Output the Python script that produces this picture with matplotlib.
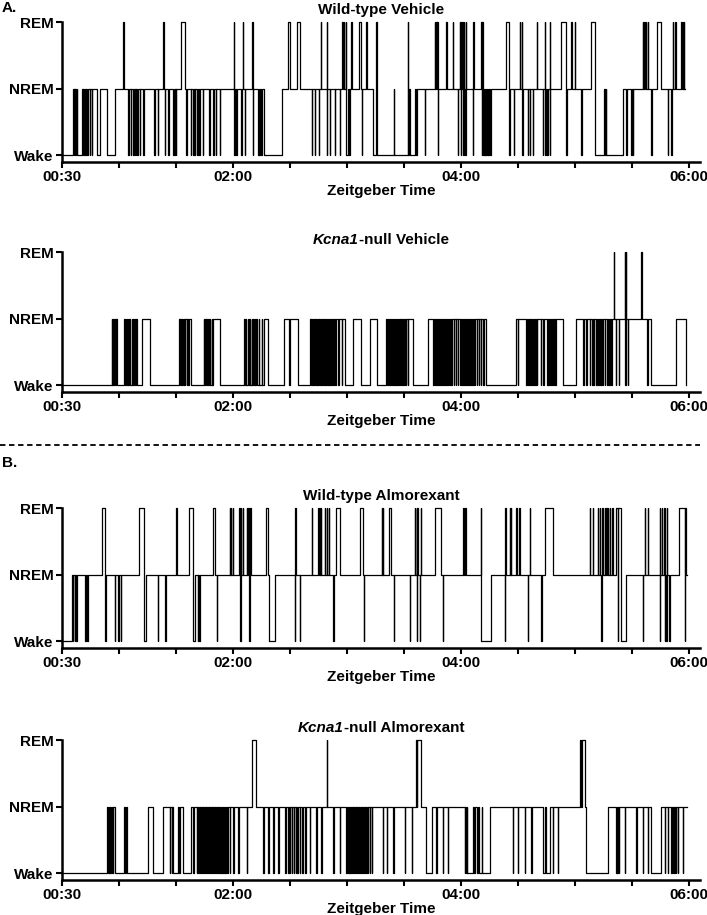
import matplotlib
matplotlib.use("Agg")
import matplotlib.pyplot as plt
from matplotlib.lines import Line2D

plt.rcParams['font.family'] = ['Liberation Sans', 'DejaVu Sans']
plt.rcParams['font.weight'] = 'bold'
plt.rcParams['font.size'] = 11

# ── Hypnogram data: (Zeitgeber minute, state) at every state change ──────────
# W = Wake, N = NREM, R = REM
wt_vehicle = [
    (30.0, 'W'), (35.8, 'N'), (36.1, 'W'), (36.4, 'N'), (36.8, 'W'), (37.0, 'N'), (37.5, 'W'),
    (37.7, 'N'), (37.9, 'W'), (40.5, 'N'), (40.8, 'W'), (41.3, 'N'), (41.6, 'W'), (42.1, 'N'),
    (42.5, 'W'), (42.8, 'N'), (43.1, 'W'), (43.7, 'N'), (44.7, 'W'), (44.9, 'N'), (45.8, 'W'),
    (46.0, 'N'), (48.4, 'W'), (50.0, 'N'), (53.7, 'W'), (57.9, 'N'), (62.3, 'R'), (62.5, 'N'),
    (64.9, 'W'), (65.1, 'N'), (66.1, 'W'), (66.3, 'N'), (67.5, 'W'), (67.7, 'N'), (68.4, 'W'),
    (68.6, 'N'), (69.0, 'W'), (69.2, 'N'), (69.6, 'W'), (69.8, 'N'), (71.0, 'W'), (71.2, 'N'),
    (72.8, 'W'), (73.0, 'N'), (78.6, 'W'), (78.8, 'N'), (80.3, 'W'), (80.5, 'N'), (83.3, 'R'),
    (83.5, 'N'), (84.2, 'W'), (84.4, 'N'), (85.9, 'W'), (86.1, 'N'), (88.6, 'W'), (88.8, 'N'),
    (89.3, 'W'), (89.5, 'N'), (90.0, 'W'), (90.2, 'N'), (92.6, 'R'), (94.7, 'N'), (95.3, 'W'),
    (95.9, 'N'), (97.7, 'W'), (97.9, 'N'), (99.1, 'W'), (99.3, 'N'), (100.0, 'W'), (100.2, 'N'),
    (101.2, 'W'), (101.4, 'N'), (102.3, 'W'), (102.5, 'N'), (104.0, 'W'), (104.2, 'N'),
    (107.5, 'W'), (107.7, 'N'), (109.6, 'W'), (109.8, 'N'), (111.0, 'W'), (111.2, 'N'),
    (113.2, 'W'), (113.4, 'N'), (120.5, 'R'), (120.7, 'W'), (121.0, 'N'), (121.5, 'W'),
    (121.9, 'N'), (124.5, 'W'), (124.7, 'N'), (125.1, 'R'), (125.3, 'N'), (126.3, 'W'),
    (126.5, 'N'), (130.3, 'R'), (130.5, 'W'), (130.8, 'N'), (133.3, 'W'), (133.5, 'N'),
    (134.0, 'W'), (134.3, 'N'), (135.0, 'W'), (135.3, 'N'), (136.3, 'W'), (145.6, 'N'),
    (149.1, 'R'), (150.3, 'N'), (153.5, 'R'), (155.2, 'N'), (161.7, 'W'), (161.9, 'N'),
    (163.1, 'W'), (163.3, 'N'), (165.2, 'W'), (165.4, 'N'), (166.3, 'R'), (166.5, 'N'),
    (169.3, 'R'), (169.5, 'W'), (169.8, 'N'), (171.0, 'W'), (171.2, 'N'), (173.7, 'W'),
    (173.9, 'N'), (176.3, 'W'), (176.5, 'N'), (177.7, 'R'), (177.9, 'N'), (178.3, 'R'),
    (178.5, 'N'), (179.5, 'R'), (179.7, 'W'), (180.5, 'N'), (181.0, 'W'), (181.6, 'N'),
    (182.4, 'R'), (182.6, 'N'), (186.5, 'R'), (187.7, 'N'), (188.0, 'W'), (188.2, 'N'),
    (190.3, 'R'), (190.5, 'N'), (193.8, 'W'), (195.5, 'R'), (195.7, 'W'), (204.9, 'N'),
    (205.1, 'W'), (212.2, 'R'), (212.4, 'W'), (213.0, 'N'), (213.2, 'W'), (216.0, 'N'),
    (216.3, 'W'), (217.2, 'N'), (221.0, 'W'), (221.2, 'N'), (226.3, 'R'), (226.6, 'N'),
    (227.0, 'R'), (227.3, 'N'), (227.7, 'R'), (228.0, 'W'), (228.2, 'N'), (232.4, 'R'),
    (232.6, 'N'), (235.9, 'R'), (236.1, 'N'), (238.6, 'W'), (238.8, 'N'), (239.4, 'R'),
    (239.6, 'N'), (240.0, 'W'), (240.2, 'R'), (240.5, 'N'), (241.0, 'R'), (241.2, 'W'),
    (241.5, 'R'), (241.8, 'N'), (242.3, 'W'), (242.6, 'R'), (242.9, 'N'), (246.4, 'W'),
    (246.6, 'R'), (246.8, 'N'), (250.8, 'R'), (251.1, 'W'), (251.4, 'R'), (251.7, 'W'),
    (252.0, 'N'), (252.3, 'W'), (252.6, 'N'), (253.0, 'W'), (253.3, 'N'), (253.8, 'W'),
    (254.1, 'N'), (254.6, 'W'), (254.9, 'N'), (255.5, 'W'), (255.8, 'N'), (264.0, 'R'),
    (265.4, 'W'), (265.7, 'N'), (268.0, 'W'), (268.2, 'N'), (271.0, 'R'), (271.3, 'N'),
    (272.0, 'R'), (272.5, 'W'), (272.8, 'N'), (275.4, 'W'), (275.6, 'N'), (276.5, 'W'),
    (276.7, 'N'), (278.0, 'W'), (278.2, 'N'), (280.1, 'R'), (280.3, 'N'), (283.3, 'W'),
    (283.5, 'N'), (284.2, 'R'), (284.4, 'W'), (284.7, 'N'), (285.5, 'W'), (285.7, 'N'),
    (286.8, 'R'), (287.0, 'W'), (287.2, 'N'), (292.9, 'R'), (295.6, 'W'), (295.8, 'N'),
    (298.2, 'R'), (298.4, 'N'), (300.0, 'R'), (300.2, 'N'), (303.4, 'W'), (303.6, 'N'),
    (308.4, 'R'), (310.5, 'W'), (315.7, 'N'), (316.0, 'W'), (316.3, 'N'), (316.6, 'W'),
    (325.4, 'N'), (327.1, 'W'), (327.3, 'N'), (329.8, 'W'), (330.0, 'N'), (330.7, 'W'),
    (330.9, 'N'), (335.9, 'R'), (336.2, 'N'), (336.6, 'R'), (336.9, 'N'), (337.4, 'R'),
    (337.7, 'N'), (338.5, 'R'), (338.8, 'N'), (340.3, 'W'), (340.5, 'N'), (343.4, 'R'),
    (345.2, 'N'), (349.0, 'W'), (349.2, 'N'), (350.8, 'W'), (351.0, 'N'), (351.7, 'R'),
    (352.0, 'N'), (353.0, 'R'), (353.4, 'N'), (356.0, 'R'), (356.3, 'N'), (356.8, 'R'),
    (357.1, 'N'), (357.5, 'R'), (357.8, 'N'),
]
wt_vehicle_end = 358.2

ko_vehicle = [
    (30.0, 'W'), (56.1, 'N'), (56.5, 'W'), (57.0, 'N'), (57.3, 'W'), (57.9, 'N'), (58.3, 'W'),
    (58.6, 'N'), (59.1, 'W'), (62.8, 'N'), (63.2, 'W'), (63.6, 'N'), (64.0, 'W'), (64.6, 'N'),
    (65.0, 'W'), (65.4, 'N'), (65.8, 'W'), (66.7, 'N'), (67.1, 'W'), (67.5, 'N'), (67.8, 'W'),
    (68.4, 'N'), (68.8, 'W'), (69.2, 'N'), (69.6, 'W'), (71.9, 'N'), (76.3, 'W'), (91.7, 'N'),
    (92.1, 'W'), (92.4, 'N'), (92.8, 'W'), (93.2, 'N'), (93.6, 'W'), (94.2, 'N'), (94.6, 'W'),
    (95.0, 'N'), (95.6, 'W'), (96.0, 'N'), (96.4, 'W'), (96.7, 'N'), (97.9, 'W'), (104.7, 'N'),
    (105.0, 'W'), (105.4, 'N'), (105.7, 'W'), (106.1, 'N'), (106.4, 'W'), (107.0, 'N'),
    (107.3, 'W'), (107.9, 'N'), (108.2, 'W'), (108.8, 'N'), (109.2, 'W'), (109.6, 'N'),
    (113.1, 'W'), (125.9, 'N'), (126.3, 'W'), (126.8, 'N'), (127.1, 'W'), (128.1, 'N'),
    (128.4, 'W'), (128.9, 'N'), (129.2, 'W'), (129.8, 'N'), (130.1, 'W'), (130.7, 'N'),
    (131.0, 'W'), (131.6, 'N'), (131.9, 'W'), (132.4, 'N'), (132.7, 'W'), (133.7, 'N'),
    (134.0, 'W'), (135.1, 'N'), (135.4, 'W'), (136.3, 'N'), (138.6, 'W'), (146.8, 'N'),
    (149.6, 'W'), (150.3, 'N'), (154.4, 'W'), (160.5, 'N'), (160.9, 'W'), (161.3, 'N'),
    (161.6, 'W'), (162.0, 'N'), (162.3, 'W'), (162.8, 'N'), (163.1, 'W'), (163.5, 'N'),
    (163.8, 'W'), (164.2, 'N'), (164.5, 'W'), (164.9, 'N'), (165.2, 'W'), (165.6, 'N'),
    (165.9, 'W'), (166.3, 'N'), (166.6, 'W'), (167.0, 'N'), (167.3, 'W'), (167.7, 'N'),
    (168.0, 'W'), (168.4, 'N'), (168.7, 'W'), (169.1, 'N'), (169.5, 'W'), (169.9, 'N'),
    (170.3, 'W'), (170.8, 'N'), (171.2, 'W'), (171.7, 'N'), (172.1, 'W'), (172.6, 'N'),
    (173.0, 'W'), (173.5, 'N'), (174.0, 'W'), (174.5, 'N'), (175.4, 'W'), (175.7, 'N'),
    (177.2, 'W'), (177.5, 'N'), (178.9, 'W'), (183.3, 'N'), (187.7, 'W'), (192.1, 'N'),
    (196.0, 'W'), (200.8, 'N'), (201.3, 'W'), (201.8, 'N'), (202.2, 'W'), (202.6, 'N'),
    (203.0, 'W'), (203.5, 'N'), (203.9, 'W'), (204.3, 'N'), (204.7, 'W'), (205.2, 'N'),
    (205.6, 'W'), (206.1, 'N'), (206.5, 'W'), (206.9, 'N'), (207.4, 'W'), (207.8, 'N'),
    (208.3, 'W'), (208.7, 'N'), (209.2, 'W'), (209.6, 'N'), (210.1, 'W'), (210.5, 'N'),
    (211.0, 'W'), (211.4, 'N'), (212.0, 'W'), (212.4, 'N'), (214.9, 'W'), (222.8, 'N'),
    (225.4, 'W'), (225.8, 'N'), (226.4, 'W'), (226.8, 'N'), (227.5, 'W'), (227.9, 'N'),
    (228.5, 'W'), (228.9, 'N'), (229.6, 'W'), (230.0, 'N'), (230.7, 'W'), (231.1, 'N'),
    (231.8, 'W'), (232.2, 'N'), (232.9, 'W'), (233.3, 'N'), (234.0, 'W'), (234.4, 'N'),
    (235.1, 'W'), (235.5, 'N'), (236.2, 'W'), (236.6, 'N'), (237.3, 'W'), (237.7, 'N'),
    (238.4, 'W'), (238.8, 'N'), (239.5, 'W'), (239.9, 'N'), (240.6, 'W'), (241.0, 'N'),
    (241.7, 'W'), (242.1, 'N'), (242.8, 'W'), (243.2, 'N'), (243.9, 'W'), (244.3, 'N'),
    (245.0, 'W'), (245.4, 'N'), (246.1, 'W'), (246.5, 'N'), (247.2, 'W'), (247.6, 'N'),
    (248.3, 'W'), (248.7, 'N'), (249.4, 'W'), (249.8, 'N'), (250.5, 'W'), (250.9, 'N'),
    (251.6, 'W'), (252.0, 'N'), (253.5, 'W'), (269.2, 'N'), (270.0, 'W'), (270.3, 'N'),
    (274.5, 'W'), (274.9, 'N'), (275.4, 'W'), (275.8, 'N'), (276.3, 'W'), (276.7, 'N'),
    (277.2, 'W'), (277.6, 'N'), (278.1, 'W'), (278.5, 'N'), (279.0, 'W'), (279.4, 'N'),
    (280.0, 'W'), (280.4, 'N'), (282.1, 'W'), (282.5, 'N'), (283.2, 'W'), (283.6, 'N'),
    (285.3, 'W'), (285.7, 'N'), (286.2, 'W'), (286.6, 'N'), (287.1, 'W'), (287.5, 'N'),
    (288.0, 'W'), (288.4, 'N'), (288.9, 'W'), (289.3, 'N'), (289.8, 'W'), (290.2, 'N'),
    (293.8, 'W'), (300.8, 'N'), (304.3, 'W'), (304.7, 'N'), (306.1, 'W'), (306.5, 'N'),
    (307.9, 'W'), (308.3, 'N'), (309.0, 'W'), (309.4, 'N'), (310.0, 'W'), (310.4, 'N'),
    (311.1, 'W'), (311.5, 'N'), (312.2, 'W'), (312.6, 'N'), (313.5, 'W'), (313.9, 'N'),
    (314.6, 'W'), (315.0, 'N'), (315.8, 'W'), (316.2, 'N'), (317.0, 'W'), (317.4, 'N'),
    (318.0, 'W'), (318.4, 'N'), (319.2, 'W'), (319.6, 'N'), (320.6, 'R'), (320.9, 'N'),
    (321.5, 'W'), (321.8, 'N'), (323.2, 'W'), (323.5, 'N'), (326.3, 'R'), (326.6, 'W'),
    (326.9, 'R'), (327.2, 'N'), (328.0, 'W'), (328.3, 'N'), (335.0, 'R'), (335.3, 'N'),
    (338.2, 'W'), (338.5, 'N'), (340.3, 'W'), (353.4, 'N'), (358.5, 'W'),
]
ko_vehicle_end = 358.7

wt_almorexant = [
    (30.0, 'W'), (35.1, 'N'), (35.6, 'W'), (36.0, 'N'), (36.6, 'W'), (37.1, 'N'), (37.6, 'W'),
    (38.1, 'N'), (42.1, 'W'), (42.6, 'N'), (43.2, 'W'), (43.9, 'N'), (50.9, 'R'), (52.6, 'N'),
    (52.8, 'W'), (53.0, 'N'), (57.9, 'W'), (58.1, 'N'), (59.6, 'W'), (59.8, 'N'), (61.0, 'W'),
    (61.2, 'N'), (70.7, 'R'), (73.3, 'W'), (74.0, 'N'), (80.3, 'W'), (80.5, 'N'), (84.5, 'W'),
    (84.7, 'N'), (90.3, 'R'), (90.5, 'N'), (97.0, 'R'), (98.8, 'W'), (100.0, 'N'), (101.4, 'W'),
    (101.6, 'N'), (102.4, 'W'), (102.6, 'N'), (109.3, 'R'), (110.5, 'N'), (111.4, 'W'),
    (111.6, 'N'), (118.4, 'R'), (118.6, 'N'), (119.0, 'R'), (119.2, 'N'), (120.0, 'R'),
    (120.2, 'N'), (123.3, 'R'), (123.5, 'N'), (124.0, 'W'), (124.2, 'R'), (124.5, 'N'),
    (125.2, 'R'), (125.4, 'N'), (127.2, 'R'), (127.4, 'N'), (128.0, 'R'), (128.3, 'N'),
    (128.6, 'W'), (128.8, 'R'), (129.3, 'N'), (137.3, 'R'), (138.6, 'N'), (139.1, 'W'),
    (142.1, 'N'), (152.6, 'W'), (152.8, 'R'), (153.3, 'N'), (155.2, 'W'), (155.4, 'N'),
    (161.4, 'R'), (161.6, 'N'), (164.9, 'R'), (165.1, 'N'), (165.8, 'R'), (166.0, 'N'),
    (166.4, 'R'), (166.6, 'N'), (168.4, 'R'), (168.6, 'N'), (169.3, 'R'), (169.5, 'N'),
    (170.4, 'R'), (170.6, 'N'), (172.8, 'W'), (173.0, 'N'), (174.5, 'R'), (176.3, 'N'),
    (186.9, 'R'), (188.3, 'N'), (189.0, 'W'), (189.2, 'N'), (198.3, 'R'), (198.6, 'N'),
    (199.0, 'R'), (199.2, 'N'), (202.3, 'R'), (203.5, 'N'), (204.8, 'W'), (205.0, 'N'),
    (213.2, 'W'), (213.4, 'N'), (215.8, 'R'), (216.0, 'N'), (216.7, 'R'), (217.0, 'W'),
    (217.2, 'R'), (217.5, 'N'), (218.4, 'W'), (218.6, 'N'), (219.1, 'R'), (219.3, 'N'),
    (226.3, 'R'), (229.8, 'N'), (230.4, 'W'), (230.6, 'N'), (241.2, 'R'), (241.5, 'N'),
    (242.3, 'R'), (243.0, 'N'), (250.5, 'R'), (250.7, 'N'), (250.9, 'W'), (256.1, 'N'),
    (263.2, 'W'), (263.4, 'R'), (263.7, 'N'), (265.8, 'R'), (266.0, 'N'), (266.5, 'R'),
    (266.7, 'N'), (269.3, 'R'), (269.6, 'N'), (270.6, 'R'), (271.1, 'N'), (275.4, 'W'),
    (275.6, 'N'), (276.3, 'R'), (276.5, 'N'), (282.5, 'W'), (282.7, 'N'), (284.2, 'R'),
    (288.6, 'N'), (307.9, 'R'), (308.1, 'N'), (309.4, 'R'), (309.6, 'N'), (312.3, 'R'),
    (312.5, 'N'), (313.2, 'R'), (313.4, 'N'), (314.0, 'W'), (314.2, 'R'), (314.9, 'N'),
    (315.8, 'R'), (316.0, 'N'), (316.6, 'R'), (316.9, 'N'), (317.4, 'R'), (317.7, 'N'),
    (318.4, 'R'), (318.7, 'N'), (319.4, 'R'), (320.2, 'N'), (321.9, 'R'), (322.8, 'W'),
    (323.0, 'R'), (324.5, 'W'), (327.2, 'N'), (336.0, 'W'), (336.2, 'N'), (336.8, 'R'),
    (337.0, 'N'), (338.4, 'R'), (338.6, 'N'), (344.7, 'R'), (344.9, 'W'), (345.1, 'N'),
    (346.0, 'R'), (346.2, 'N'), (347.2, 'R'), (347.4, 'W'), (347.6, 'N'), (348.2, 'W'),
    (348.4, 'R'), (348.6, 'N'), (349.8, 'W'), (350.0, 'N'), (355.2, 'R'), (357.9, 'W'),
    (358.1, 'R'), (358.7, 'N'),
]
wt_almorexant_end = 359.1

ko_almorexant = [
    (30.0, 'W'), (53.8, 'N'), (54.2, 'W'), (54.6, 'N'), (55.0, 'W'), (55.4, 'N'), (55.8, 'W'),
    (56.2, 'N'), (56.6, 'W'), (57.0, 'N'), (57.9, 'W'), (62.8, 'N'), (63.2, 'W'), (63.6, 'N'),
    (64.0, 'W'), (75.1, 'N'), (78.1, 'W'), (83.3, 'N'), (86.8, 'W'), (87.0, 'N'), (87.7, 'W'),
    (87.9, 'N'), (88.6, 'W'), (91.2, 'N'), (91.6, 'W'), (92.0, 'N'), (93.8, 'W'), (98.2, 'N'),
    (99.2, 'W'), (99.5, 'N'), (100.9, 'W'), (101.2, 'N'), (101.7, 'W'), (102.0, 'N'),
    (102.5, 'W'), (102.8, 'N'), (103.3, 'W'), (103.6, 'N'), (104.1, 'W'), (104.4, 'N'),
    (104.9, 'W'), (105.2, 'N'), (105.7, 'W'), (106.0, 'N'), (106.5, 'W'), (106.8, 'N'),
    (107.3, 'W'), (107.6, 'N'), (108.1, 'W'), (108.4, 'N'), (108.9, 'W'), (109.2, 'N'),
    (109.7, 'W'), (110.0, 'N'), (110.5, 'W'), (110.8, 'N'), (111.3, 'W'), (111.6, 'N'),
    (112.1, 'W'), (112.4, 'N'), (112.9, 'W'), (113.2, 'N'), (113.7, 'W'), (114.0, 'N'),
    (114.5, 'W'), (114.8, 'N'), (115.3, 'W'), (115.6, 'N'), (116.1, 'W'), (116.4, 'N'),
    (117.0, 'W'), (117.3, 'N'), (118.4, 'W'), (118.7, 'N'), (120.2, 'W'), (120.4, 'N'),
    (122.8, 'W'), (123.0, 'N'), (127.2, 'W'), (127.4, 'N'), (130.1, 'R'), (132.4, 'N'),
    (136.0, 'W'), (136.3, 'N'), (138.6, 'W'), (138.9, 'N'), (141.2, 'W'), (141.5, 'N'),
    (143.8, 'W'), (144.1, 'N'), (147.3, 'W'), (148.2, 'N'), (149.0, 'W'), (149.3, 'N'),
    (150.0, 'W'), (150.3, 'N'), (151.0, 'W'), (151.3, 'N'), (152.0, 'W'), (152.3, 'N'),
    (153.0, 'W'), (153.3, 'N'), (154.0, 'W'), (154.3, 'N'), (155.2, 'W'), (155.5, 'N'),
    (156.5, 'W'), (156.8, 'N'), (158.0, 'W'), (158.3, 'N'), (160.5, 'W'), (160.8, 'N'),
    (164.0, 'W'), (164.3, 'N'), (166.6, 'W'), (166.9, 'N'), (169.3, 'R'), (169.5, 'N'),
    (172.8, 'W'), (173.1, 'N'), (176.3, 'W'), (176.6, 'N'), (179.8, 'W'), (180.1, 'N'),
    (180.6, 'W'), (180.9, 'N'), (181.4, 'W'), (181.7, 'N'), (182.2, 'W'), (182.5, 'N'),
    (183.0, 'W'), (183.3, 'N'), (183.8, 'W'), (184.1, 'N'), (184.6, 'W'), (184.9, 'N'),
    (185.4, 'W'), (185.7, 'N'), (186.2, 'W'), (186.5, 'N'), (187.0, 'W'), (187.3, 'N'),
    (187.8, 'W'), (188.1, 'N'), (188.6, 'W'), (188.9, 'N'), (189.4, 'W'), (189.7, 'N'),
    (190.2, 'W'), (190.5, 'N'), (191.0, 'W'), (191.3, 'N'), (192.0, 'W'), (192.3, 'N'),
    (193.0, 'W'), (193.3, 'N'), (199.1, 'W'), (199.3, 'N'), (200.9, 'W'), (201.1, 'N'),
    (204.4, 'W'), (204.6, 'N'), (210.5, 'W'), (210.7, 'N'), (214.1, 'W'), (214.3, 'N'),
    (216.3, 'R'), (216.8, 'N'), (217.0, 'R'), (219.3, 'N'), (221.6, 'W'), (224.6, 'N'),
    (227.2, 'W'), (227.4, 'N'), (230.4, 'W'), (230.6, 'N'), (233.3, 'W'), (233.5, 'N'),
    (242.1, 'W'), (242.4, 'N'), (242.8, 'W'), (243.1, 'N'), (243.5, 'W'), (246.5, 'N'),
    (246.9, 'W'), (247.3, 'N'), (248.3, 'W'), (249.1, 'N'), (249.5, 'W'), (251.0, 'N'),
    (251.3, 'W'), (255.3, 'N'), (267.5, 'W'), (267.7, 'N'), (270.2, 'W'), (270.4, 'N'),
    (273.7, 'W'), (273.9, 'N'), (277.2, 'W'), (277.4, 'N'), (283.3, 'W'), (284.5, 'N'),
    (284.8, 'W'), (286.8, 'N'), (288.6, 'W'), (288.8, 'N'), (291.2, 'W'), (291.4, 'N'),
    (303.0, 'R'), (303.5, 'N'), (304.0, 'R'), (305.3, 'N'), (306.1, 'W'), (317.5, 'N'),
    (321.9, 'W'), (322.1, 'N'), (322.5, 'W'), (322.7, 'N'), (323.3, 'W'), (323.6, 'N'),
    (326.3, 'W'), (326.5, 'N'), (332.4, 'W'), (332.6, 'N'), (336.0, 'W'), (336.2, 'N'),
    (338.6, 'W'), (338.8, 'N'), (340.3, 'W'), (345.6, 'N'), (347.4, 'W'), (347.6, 'N'),
    (349.1, 'W'), (349.3, 'N'), (350.9, 'W'), (351.1, 'N'), (351.7, 'W'), (351.9, 'N'),
    (352.5, 'W'), (352.7, 'N'), (353.3, 'W'), (353.5, 'N'), (354.2, 'W'), (354.4, 'N'),
    (357.0, 'W'), (357.2, 'N'),
]
ko_almorexant_end = 359.1

state_levels = {'W': 0, 'N': 1, 'R': 2}
state_labels = ['Wake', 'NREM', 'REM']
tick_minutes = list(range(30, 361, 30))
tick_labels = {30: '00:30', 120: '02:00', 240: '04:00', 360: '06:00'}

# ── Figure layout (pixel positions) ──────────────────────────────────────────
W, H = 707, 915
fig = plt.figure(figsize=(W / 100, H / 100), dpi=100)

panels = [
    (wt_vehicle, wt_vehicle_end, ('', 'Wild-type Vehicle'), 22),
    (ko_vehicle, ko_vehicle_end, ('Kcna1', '-null Vehicle'), 252),
    (wt_almorexant, wt_almorexant_end, ('', 'Wild-type Almorexant'), 508),
    (ko_almorexant, ko_almorexant_end, ('Kcna1', '-null Almorexant'), 740),
]

left_px, right_px, height_px = 62, 700, 140
axes = []
for bouts, end, (ital, rest), top_px in panels:
    ax = fig.add_axes([left_px / W, 1 - (top_px + height_px) / H,
                       (right_px - left_px) / W, height_px / H])
    t = [b[0] for b in bouts] + [end]
    y = [state_levels[b[1]] for b in bouts]
    y.append(y[-1])
    ax.step(t, y, where='post', color='black', lw=0.9, clip_on=False)

    ax.set_xlim(30, 366)
    ax.set_ylim(-0.1, 2)
    ax.set_yticks([0, 1, 2])
    ax.set_yticklabels(state_labels, fontweight='bold', fontsize=11)
    ax.set_xticks(tick_minutes)
    ax.set_xticklabels([tick_labels.get(m, '') for m in tick_minutes],
                       fontweight='bold', fontsize=11)
    ax.tick_params(axis='both', direction='out', length=4, width=1.5, pad=2)
    for side in ['top', 'right']:
        ax.spines[side].set_visible(False)
    for side in ['left', 'bottom']:
        ax.spines[side].set_linewidth(1.8)
    ax.set_xlabel('Zeitgeber Time', fontweight='bold', fontsize=11, labelpad=0)

    # title (italic gene name + bold rest), centred over the axes
    y_title = 1 - (top_px - 12) / H
    if ital:
        t1 = fig.text(0, y_title, ital, fontstyle='italic', fontweight='bold',
                      fontsize=11, va='center', ha='left')
        t2 = fig.text(0, y_title, rest, fontweight='bold', fontsize=11,
                      va='center', ha='left')
        fig.canvas.draw()
        r = fig.canvas.get_renderer()
        w1 = t1.get_window_extent(r).width
        w2 = t2.get_window_extent(r).width
        x0 = (left_px + right_px) / 2 - (w1 + w2) / 2
        t1.set_x(x0 / W)
        t2.set_x((x0 + w1) / W)
    else:
        fig.text((left_px + right_px) / 2 / W, y_title, rest, fontweight='bold',
                 fontsize=11, va='center', ha='center')
    axes.append(ax)

# panel letters and separator
fig.text(2 / W, 1 - 8 / H, 'A.', fontweight='bold', fontsize=11, va='center', ha='left')
fig.text(2 / W, 1 - 463 / H, 'B.', fontweight='bold', fontsize=11, va='center', ha='left')
fig.add_artist(Line2D([0, 700 / W], [1 - 445 / H] * 2, transform=fig.transFigure,
                      color='black', lw=1.3, ls=(0, (3, 2))))

fig.savefig('out.png', dpi=100)
